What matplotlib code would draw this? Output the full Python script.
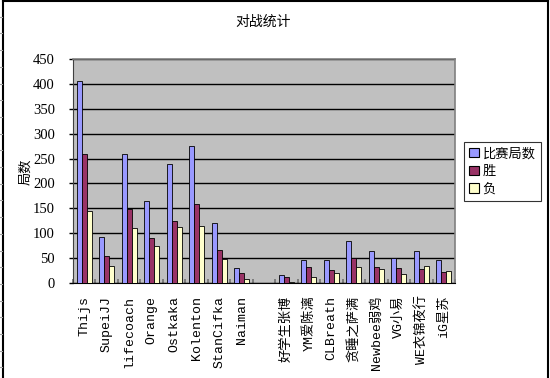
import matplotlib
matplotlib.use("Agg")
import matplotlib.pyplot as plt
from matplotlib.lines import Line2D
from matplotlib.patches import Patch
import numpy as np

plt.rcParams['font.family'] = ['Noto Sans CJK SC', 'DejaVu Sans']

categories = ["Thijs", "SupeiJJ", "lifecoach", "Orange", "Ostkaka", "Kolenton",
              "StanCifka", "Naiman", "", "好学生张博", "YM爱陈漓", "CLBreath",
              "贪睡之萨满", "Newbee弱鸡", "VG小易", "WE衣锦夜行", "iG星苏"]
games = [405, 92, 259, 165, 239, 275, 120, 30, 0, 17, 47, 47, 84, 64, 50, 64, 47]
wins = [259, 54, 148, 90, 124, 159, 67, 20, 0, 13, 32, 27, 50, 32, 30, 28, 22]
losses = [145, 34, 111, 74, 113, 114, 49, 9, 0, 3, 13, 20, 32, 28, 18, 34, 25]
series_names = ["比赛局数", "胜", "负"]
colors = ["#9999FF", "#993366", "#FFFFCC"]
yticks = [0, 50, 100, 150, 200, 250, 300, 350, 400, 450]

W, H = 550, 378
fig = plt.figure(figsize=(W / 100, H / 100), dpi=100)
fig.patch.set_facecolor("white")

ax = fig.add_axes([73 / W, 1 - 283 / H, (455 - 73) / W, (283 - 59) / H])
ax.set_facecolor("#C0C0C0")

x = np.arange(len(categories))
bw = 0.222
for i, (vals, c) in enumerate(zip([games, wins, losses], colors)):
    ax.bar(x + (i - 1) * bw, vals, width=bw, color=c, edgecolor="black",
           linewidth=0.6, zorder=3, label=series_names[i])

ax.set_xlim(-0.5, len(categories) - 0.5)
ax.set_ylim(0, 450)
ax.set_yticks(yticks)
ax.set_yticklabels([str(v) for v in yticks], family="Liberation Serif", fontsize=10.5)
ax.yaxis.grid(True, color="black", linewidth=1.0, zorder=1)
ax.set_axisbelow(True)
ax.tick_params(axis="y", direction="out", length=3, width=1, color="black", pad=10)

ax.set_xticks(x)
ax.set_xticklabels(categories, rotation=90, fontsize=9.5,
                   family=["Liberation Mono", "Noto Sans CJK SC"], va="top")
ax.tick_params(axis="x", which="major", length=0, pad=9)
ax.set_xticks(np.arange(-0.5, len(categories), 1), minor=True)
ax.tick_params(axis="x", which="minor", direction="in", length=3, width=1.2, color="#707070")

for s in ["top", "right"]:
    ax.spines[s].set_color("#808080")
    ax.spines[s].set_linewidth(1.2)
ax.spines["bottom"].set_color("black")
ax.spines["left"].set_color("#404040")

handles = [Patch(facecolor=c, edgecolor="black", linewidth=0.8) for c in colors]
leg = ax.legend(handles, series_names, loc="upper left",
                bbox_to_anchor=((464 - 73) / 382, (283 - 142) / 224),
                borderaxespad=0, frameon=True, fancybox=False, fontsize=9.5,
                handlelength=0.7, handleheight=0.7, handletextpad=0.3,
                labelspacing=0.35, borderpad=0.4)
leg.get_frame().set_edgecolor("black")
leg.get_frame().set_linewidth(0.8)

fig.text(263 / W, 1 - 22 / H, "对战统计", ha="center", va="center", fontsize=10)
fig.text(26 / W, 1 - 172 / H, "局数", ha="center", va="center", rotation=90, fontsize=9.5)

# chart frame
fig.add_artist(Line2D([3 / W, 3 / W], [0, 1], transform=fig.transFigure, color="black", lw=1.5))
fig.add_artist(Line2D([3 / W, 548 / W], [1 - 0.8 / H, 1 - 0.8 / H], transform=fig.transFigure, color="black", lw=1.5))
fig.add_artist(Line2D([548 / W, 548 / W], [0, 1], transform=fig.transFigure, color="black", lw=1.5))
# spreadsheet gridlines to the left
for k in range(1, 23):
    yy = 1 - (16.7 * k) / H
    fig.add_artist(Line2D([0, 2 / W], [yy, yy], transform=fig.transFigure, color="#A0A0A0", lw=0.8))

fig.savefig("out.png", dpi=100)
